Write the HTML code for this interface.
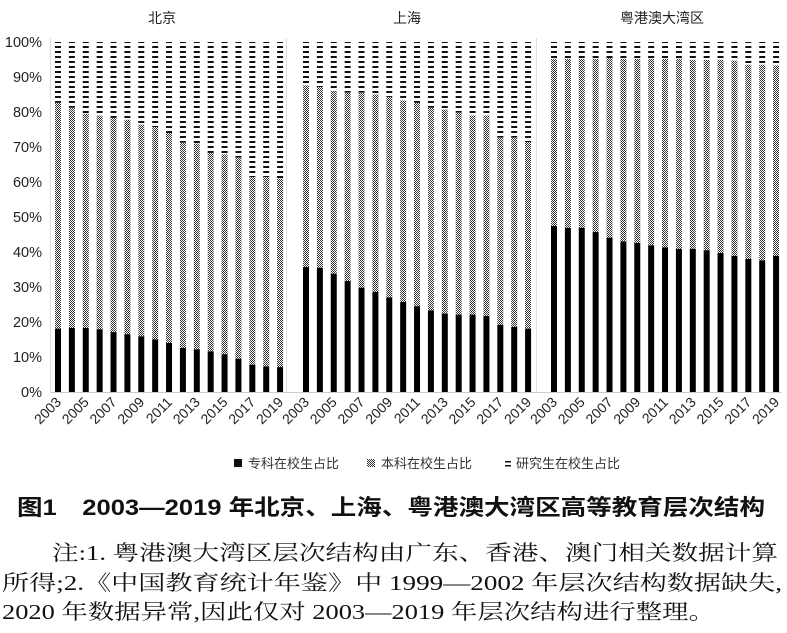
<!DOCTYPE html>
<html><head><meta charset="utf-8"><style>
html,body{margin:0;padding:0;background:#fff;width:787px;height:633px;overflow:hidden}
svg{display:block}
.t{font-family:"Liberation Sans","Noto Sans CJK SC",sans-serif}
.s{font-family:"Liberation Serif","Noto Serif CJK SC",serif}
</style></head><body>
<svg id="c" width="787" height="633" viewBox="0 0 787 633" xmlns="http://www.w3.org/2000/svg">
<defs>
<pattern id="chk" width="2" height="2" patternUnits="userSpaceOnUse">
<rect width="2" height="2" fill="#fff"/><rect width="1" height="1" fill="#333"/><rect x="1" y="1" width="1" height="1" fill="#333"/>
</pattern>
<pattern id="dash" width="6" height="5" patternUnits="userSpaceOnUse">
<rect width="6" height="5" fill="#fff"/><rect y="1" width="6" height="2" fill="#111"/>
</pattern>
</defs>
<g class="t" font-size="14" fill="#222">
<text x="148" y="23">北京</text>
<text x="393" y="23">上海</text>
<text x="620" y="23">粤港澳大湾区</text>
<g text-anchor="end" font-size="14.5">
<text x="42" y="47">100%</text><text x="42" y="82">90%</text><text x="42" y="117">80%</text><text x="42" y="152">70%</text><text x="42" y="187">60%</text><text x="42" y="222">50%</text><text x="42" y="257">40%</text><text x="42" y="292">30%</text><text x="42" y="327">20%</text><text x="42" y="362">10%</text><text x="42" y="397">0%</text>
</g>
</g>
<line x1="50" y1="392.5" x2="782" y2="392.5" stroke="#ccc"/>
<line x1="50.5" y1="38" x2="50.5" y2="393" stroke="#ddd"/>
<line x1="286.5" y1="38" x2="286.5" y2="393" stroke="#ddd"/>
<line x1="536.5" y1="38" x2="536.5" y2="393" stroke="#ddd"/>
<g id="bars"></g>
<g id="yrs" class="t" font-size="14" fill="#222" text-anchor="end"></g>
<g class="t" font-size="13" fill="#333">
<rect x="234" y="459" width="8" height="8" fill="#111"/>
<text x="248" y="468">专科在校生占比</text>
<rect x="367" y="459" width="8" height="8" fill="url(#chk)"/>
<text x="381" y="468">本科在校生占比</text>
<rect x="505" y="461" width="6" height="1.5" fill="#111"/><rect x="505" y="465" width="6" height="1.5" fill="#111"/>
<text x="516" y="468">研究生在校生占比</text>
</g>
<text x="17" y="515" class="t" font-size="22" font-weight="bold" fill="#111" textLength="748" lengthAdjust="spacingAndGlyphs">图1　2003—2019 年北京、上海、粤港澳大湾区高等教育层次结构</text>
<g class="s" font-size="21" fill="#111">
<text x="52" y="560" textLength="726" lengthAdjust="spacingAndGlyphs">注:1. 粤港澳大湾区层次结构由广东、香港、澳门相关数据计算</text>
<text x="2" y="590" textLength="780" lengthAdjust="spacingAndGlyphs">所得;2.《中国教育统计年鉴》中 1999—2002 年层次结构数据缺失,</text>
<text x="2" y="619" textLength="713" lengthAdjust="spacingAndGlyphs">2020 年数据异常,因此仅对 2003—2019 年层次结构进行整理。</text>
</g>
</svg>
<script>
var B=[[18.1,18.3,18.3,17.9,17.1,16.5,15.9,15,14,12.6,12.2,11.6,10.8,9.5,7.8,7.3,7.1],
[82.6,81.2,79.5,79,78.3,77.8,76.4,75.7,74,71.2,71,68.3,67.9,67,61.4,61.4,61]];
var S=[[35.7,35.5,33.8,31.7,29.8,28.6,27,25.7,24.5,23.3,22.4,22.1,22.1,21.7,19.2,18.6,18.1],
[87.6,87.1,85.9,85.5,85.5,85,84.3,83.3,82.6,81.2,80.7,79.8,79,79,72.7,72.7,71.4]];
var G=[[47.4,46.9,46.9,45.7,44.1,43,42.6,41.9,41.3,40.9,40.9,40.5,39.7,38.9,38,37.6,38.9],
[95.2,95.2,95.2,95.2,95.4,95.2,95.2,95.2,95.2,95.2,94.9,94.9,94.9,94.7,93.5,93.5,93.3]];
var starts=[55,303,551],sp=13.88,y0=392,k=3.5,h='',t='';
[B,S,G].forEach(function(d,p){
for(var i=0;i<17;i++){var x=starts[p]+i*sp;
var a=d[0][i],b=d[1][i];
h+='<rect x="'+x+'" y="'+(y0-100*k)+'" width="6" height="'+((100-b)*k)+'" fill="url(#dash)"/>';
h+='<rect x="'+x+'" y="'+(y0-b*k)+'" width="6" height="'+((b-a)*k)+'" fill="url(#chk)"/>';
h+='<rect x="'+x+'" y="'+(y0-a*k)+'" width="6" height="'+(a*k)+'" fill="#000"/>';
if(i%2==0){var cx=x+7,cy=403;t+='<text transform="translate('+cx+','+cy+') rotate(-45)">'+(2003+i)+'</text>';}
}});
document.getElementById('bars').innerHTML=h;
document.getElementById('yrs').innerHTML=t;
</script>
</body></html>
